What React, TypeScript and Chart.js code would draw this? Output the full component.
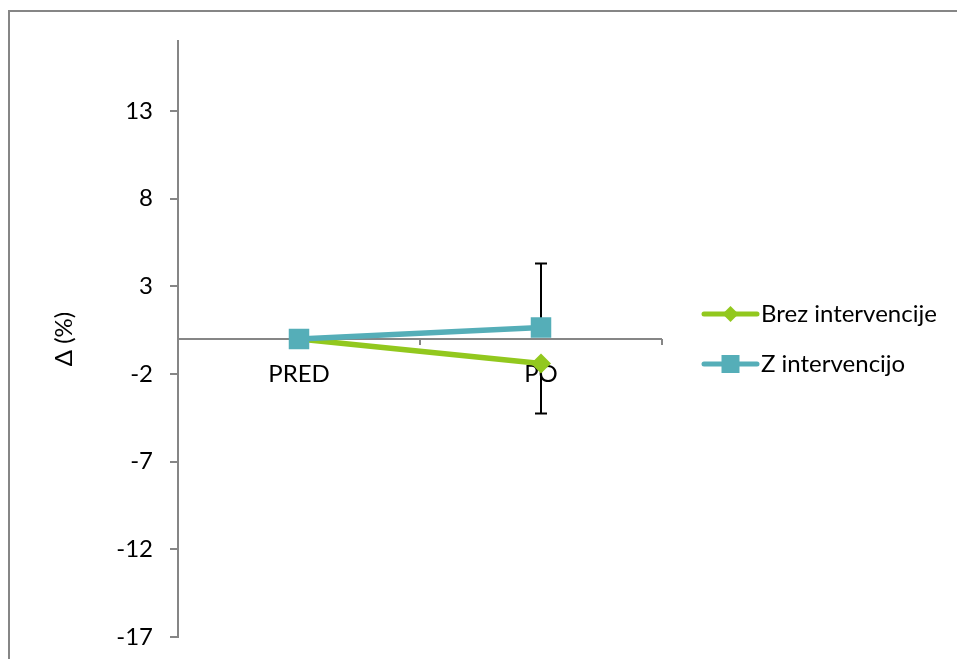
import React, { useEffect, useRef } from 'react';
import { Chart, registerables } from 'chart.js';
Chart.register(...registerables);

const categories = ['PRED', 'PO'];
const seriesNames = ['Brez intervencije', 'Z intervencijo'];
const brezValues = [0, -1.4];
const zValues = [0, 0.65];
const brezErrPlus = [0, 0];
const brezErrMinus = [0, 2.85];
const zErrPlus = [0, 3.65];
const zErrMinus = [0, 0];
const yTicks = [-17, -12, -7, -2, 3, 8, 13];
const yMin = -17;
const yMax = 17;
const yTitle = 'Δ (%)';

const GREEN = '#92C81E';
const TEAL = '#55AEB8';
const AXIS = '#868686';
const FONT = 'Lato';
const FS = 24;

export default function App() {
  const ref = useRef<HTMLCanvasElement>(null);
  useEffect(() => {
    const canvas = ref.current!;
    const errs = [
      { vals: brezValues, plus: brezErrPlus, minus: brezErrMinus },
      { vals: zValues, plus: zErrPlus, minus: zErrMinus },
    ];
    const underPlugin = {
      id: 'under',
      beforeDatasetsDraw(chart: any) {
        const { ctx, chartArea, scales } = chart;
        const x = scales.x, y = scales.y;
        ctx.save();
        const y0 = Math.round(y.getPixelForValue(0));
        ctx.strokeStyle = AXIS;
        ctx.lineWidth = 2;
        ctx.beginPath();
        ctx.moveTo(chartArea.left, y0);
        ctx.lineTo(chartArea.right, y0);
        ctx.stroke();
        ctx.strokeStyle = '#000';
        ctx.lineWidth = 2;
        const cap = 6;
        errs.forEach((e) => {
          e.vals.forEach((v, i) => {
            const px = Math.round(x.getPixelForValue(i));
            const pv = y.getPixelForValue(v);
            if (e.plus[i] > 0) {
              const pt = y.getPixelForValue(v + e.plus[i]);
              ctx.beginPath();
              ctx.moveTo(px, pv);
              ctx.lineTo(px, pt);
              ctx.moveTo(px - cap, pt);
              ctx.lineTo(px + cap, pt);
              ctx.stroke();
            }
            if (e.minus[i] > 0) {
              const pb = y.getPixelForValue(v - e.minus[i]);
              ctx.beginPath();
              ctx.moveTo(px, pv);
              ctx.lineTo(px, pb);
              ctx.moveTo(px - cap, pb);
              ctx.lineTo(px + cap, pb);
              ctx.stroke();
            }
          });
        });
        ctx.restore();
      },
    };
    const legendPlugin = {
      id: 'customLegend',
      afterDraw(chart: any) {
        const { ctx, chartArea } = chart;
        ctx.save();
        const mid = (chartArea.top + chartArea.bottom) / 2;
        const items = chart.data.datasets;
        const gap = 50;
        items.forEach((ds: any, i: number) => {
          const cy = Math.round(mid - gap / 2 + i * gap);
          const x0 = chartArea.right + 42;
          const x1 = x0 + 53;
          const cx = (x0 + x1) / 2;
          ctx.strokeStyle = ds.borderColor;
          ctx.lineWidth = 5;
          ctx.lineCap = 'round';
          ctx.beginPath();
          ctx.moveTo(x0, cy);
          ctx.lineTo(x1, cy);
          ctx.stroke();
          ctx.fillStyle = ds.pointBackgroundColor;
          ctx.beginPath();
          if (ds.pointStyle === 'rectRot') {
            const r = 8;
            ctx.moveTo(cx - r, cy);
            ctx.lineTo(cx, cy - r);
            ctx.lineTo(cx + r, cy);
            ctx.lineTo(cx, cy + r);
            ctx.closePath();
          } else {
            const s = 9;
            ctx.rect(cx - s, cy - s, 2 * s, 2 * s);
          }
          ctx.fill();
          ctx.fillStyle = '#000';
          ctx.font = `${FS}px ${FONT}`;
          ctx.textBaseline = 'middle';
          ctx.textAlign = 'left';
          ctx.fillText(ds.label, x1 + 4, cy);
        });
        ctx.restore();
      },
    };
    const chart = new Chart(canvas, {
      type: 'line',
      data: {
        labels: categories,
        datasets: [
          {
            label: seriesNames[0],
            data: brezValues,
            borderColor: GREEN,
            backgroundColor: GREEN,
            pointBackgroundColor: GREEN,
            pointBorderColor: GREEN,
            pointBorderWidth: 0,
            pointStyle: 'rectRot',
            pointRadius: 10,
            borderWidth: 5.5,
            order: 1,
          },
          {
            label: seriesNames[1],
            data: zValues,
            borderColor: TEAL,
            backgroundColor: TEAL,
            pointBackgroundColor: TEAL,
            pointBorderColor: TEAL,
            pointBorderWidth: 0,
            pointStyle: 'rect',
            pointRadius: 14.5,
            borderWidth: 5.5,
            order: 0,
          },
        ],
      },
      options: {
        animation: false,
        responsive: false,
        events: [],
        layout: { padding: { left: 0, top: 41, right: 295, bottom: 22 } },
        plugins: { legend: { display: false }, tooltip: { enabled: false } },
        font: { family: FONT, size: FS },
        scales: {
          x: {
            type: 'category',
            position: { y: 0 } as any,
            offset: true,
            z: 1,
            border: { display: false },
            grid: {
              offset: true,
              drawOnChartArea: false,
              drawTicks: true,
              tickLength: 6,
              tickColor: AXIS,
              lineWidth: 2,
            },
            ticks: { color: '#000', padding: 15, font: { family: FONT, size: FS }, maxRotation: 0 },
            afterFit: (scale: any) => {
              scale.height = 0;
              scale.paddingLeft = 0;
              scale.paddingRight = 0;
              scale.paddingTop = 0;
              scale.paddingBottom = 0;
            },
          },
          y: {
            type: 'linear',
            min: yMin,
            max: yMax,
            border: { display: true, color: AXIS, width: 2 },
            grid: {
              drawOnChartArea: false,
              drawTicks: true,
              tickLength: 8,
              tickColor: AXIS,
              lineWidth: 2,
            },
            ticks: { color: '#000', padding: 17, font: { family: FONT, size: FS } },
            title: {
              display: true,
              text: yTitle,
              color: '#000',
              font: { family: FONT, size: FS },
              padding: { top: 50, bottom: 0 },
            },
            afterBuildTicks: (scale: any) => {
              scale.ticks = yTicks.map((v) => ({ value: v }));
            },
            afterFit: (scale: any) => {
              scale.width = 178;
              scale.paddingTop = 0;
              scale.paddingBottom = 0;
            },
          },
        },
      },
      plugins: [underPlugin, legendPlugin],
    });
    return () => chart.destroy();
  }, []);
  return (
    <>
      <div
        style={{
          position: 'fixed',
          left: 8,
          top: 10,
          width: 949,
          height: 649,
          borderTop: `2px solid ${AXIS}`,
          borderLeft: `2px solid ${AXIS}`,
          boxSizing: 'border-box',
        }}
      />
      <canvas
        ref={ref}
        width={957}
        height={659}
        style={{ position: 'fixed', left: 0, top: 0, width: 957, height: 659, display: 'block' }}
      />
    </>
  );
}
